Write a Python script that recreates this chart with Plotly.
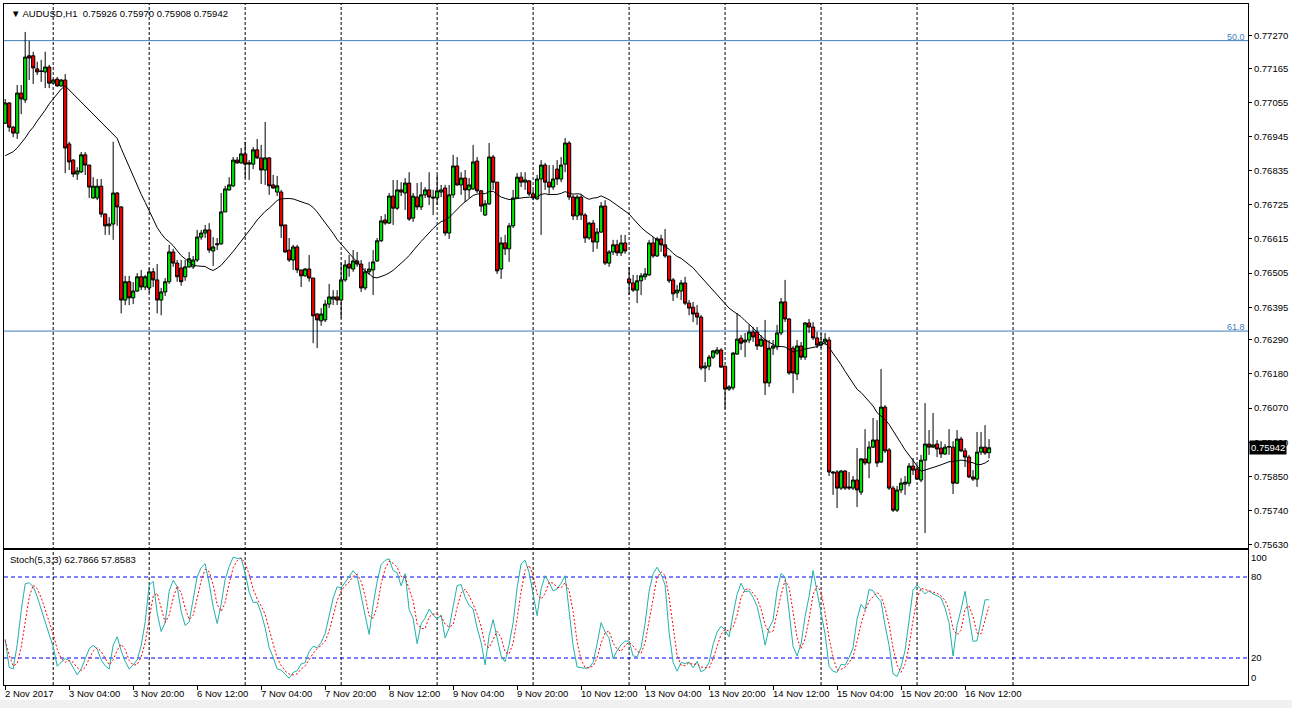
import plotly.graph_objects as go
import pandas as pd
import numpy as np

# ---------------- data (AUDUSD H1) ----------------
session_days = ["2017-11-02", "2017-11-03", "2017-11-06", "2017-11-07", "2017-11-08",
                "2017-11-09", "2017-11-10", "2017-11-13", "2017-11-14", "2017-11-15", "2017-11-16"]
first_bar_hour = 12
last_bar_hour = 18

open_ = [
0.76988, 0.77053, 0.76975, 0.76956, 0.77085, 0.77063, 0.77205, 0.77205, 0.77163, 0.77156,
0.77153, 0.77169, 0.77117, 0.77130, 0.77108, 0.77127, 0.76921, 0.76869, 0.76824, 0.76831,
0.76886, 0.76853, 0.76747, 0.76747, 0.76785, 0.76695, 0.76657, 0.76663, 0.76763, 0.76718,
0.76418, 0.76477, 0.76425, 0.76447, 0.76493, 0.76460, 0.76457, 0.76509, 0.76483, 0.76418,
0.76444, 0.76477, 0.76573, 0.76537, 0.76521, 0.76493, 0.76525, 0.76525, 0.76547, 0.76621,
0.76634, 0.76644, 0.76576, 0.76596, 0.76599, 0.76702, 0.76773, 0.76786, 0.76869, 0.76860,
0.76889, 0.76856, 0.76856, 0.76902, 0.76876, 0.76837, 0.76876, 0.76789, 0.76766, 0.76766,
0.76660, 0.76579, 0.76547, 0.76589, 0.76515, 0.76496, 0.76518, 0.76489, 0.76373, 0.76351,
0.76354, 0.76405, 0.76421, 0.76428, 0.76418, 0.76483, 0.76534, 0.76518, 0.76544, 0.76534,
0.76457, 0.76509, 0.76515, 0.76544, 0.76609, 0.76676, 0.76666, 0.76753, 0.76714, 0.76773,
0.76763, 0.76795, 0.76682, 0.76750, 0.76718, 0.76757, 0.76773, 0.76750, 0.76747, 0.76766,
0.76779, 0.76634, 0.76757, 0.76850, 0.76789, 0.76811, 0.76773, 0.76776, 0.76866, 0.76770,
0.76692, 0.76728, 0.76879, 0.76798, 0.76518, 0.76602, 0.76583, 0.76657, 0.76747, 0.76814,
0.76798, 0.76802, 0.76760, 0.76744, 0.76808, 0.76853, 0.76798, 0.76782, 0.76840, 0.76808,
0.76856, 0.76924, 0.76750, 0.76689, 0.76750, 0.76692, 0.76618, 0.76666, 0.76605, 0.76637,
0.76721, 0.76537, 0.76573, 0.76596, 0.76570, 0.76602, 0.76486, 0.76473, 0.76450, 0.76480,
0.76493, 0.76499, 0.76602, 0.76560, 0.76615, 0.76596, 0.76560, 0.76483, 0.76441, 0.76447,
0.76473, 0.76408, 0.76395, 0.76376, 0.76363, 0.76199, 0.76205, 0.76234, 0.76247, 0.76257,
0.76205, 0.76131, 0.76135, 0.76244, 0.76295, 0.76283, 0.76289, 0.76315, 0.76315, 0.76270,
0.76289, 0.76151, 0.76263, 0.76267, 0.76312, 0.76412, 0.76357, 0.76263, 0.76180, 0.76270,
0.76234, 0.76344, 0.76331, 0.76296, 0.76273, 0.76283, 0.76289, 0.75864, 0.75864, 0.75812,
0.75867, 0.75812, 0.75812, 0.75838, 0.75799, 0.75906, 0.75893, 0.75944, 0.75967, 0.75896,
0.76073, 0.75935, 0.75812, 0.75741, 0.75806, 0.75825, 0.75828, 0.75883, 0.75873, 0.75838,
0.75902, 0.75954, 0.75944, 0.75954, 0.75941, 0.75922, 0.75944, 0.75944, 0.75828, 0.75970,
0.75932, 0.75912, 0.75848, 0.75841, 0.75928, 0.75944, 0.75926]

high_ = [
0.77066, 0.77056, 0.76979, 0.77111, 0.77111, 0.77282, 0.77253, 0.77218, 0.77186, 0.77192,
0.77218, 0.77176, 0.77130, 0.77137, 0.77130, 0.77146, 0.76928, 0.76872, 0.76846, 0.76895,
0.76895, 0.76853, 0.76814, 0.76808, 0.76808, 0.76698, 0.76685, 0.76928, 0.76766, 0.76721,
0.76496, 0.76496, 0.76476, 0.76505, 0.76515, 0.76499, 0.76521, 0.76521, 0.76534, 0.76457,
0.76489, 0.76596, 0.76583, 0.76547, 0.76547, 0.76547, 0.76573, 0.76560, 0.76644, 0.76644,
0.76660, 0.76666, 0.76621, 0.76618, 0.76763, 0.76786, 0.76814, 0.76879, 0.76879, 0.76908,
0.76928, 0.76869, 0.76911, 0.76937, 0.76918, 0.76992, 0.76879, 0.76821, 0.76818, 0.76773,
0.76660, 0.76618, 0.76596, 0.76596, 0.76515, 0.76521, 0.76563, 0.76489, 0.76376, 0.76392,
0.76418, 0.76470, 0.76450, 0.76450, 0.76538, 0.76547, 0.76563, 0.76579, 0.76573, 0.76547,
0.76521, 0.76541, 0.76579, 0.76618, 0.76689, 0.76695, 0.76763, 0.76805, 0.76805, 0.76798,
0.76811, 0.76830, 0.76763, 0.76795, 0.76798, 0.76782, 0.76830, 0.76773, 0.76821, 0.76789,
0.76789, 0.76789, 0.76886, 0.76879, 0.76830, 0.76837, 0.76811, 0.76918, 0.76879, 0.76773,
0.76740, 0.76924, 0.76886, 0.76798, 0.76621, 0.76628, 0.76666, 0.76773, 0.76827, 0.76830,
0.76830, 0.76805, 0.76773, 0.76821, 0.76869, 0.76860, 0.76853, 0.76853, 0.76869, 0.76879,
0.76940, 0.76930, 0.76757, 0.76757, 0.76757, 0.76698, 0.76670, 0.76676, 0.76650, 0.76734,
0.76740, 0.76579, 0.76612, 0.76612, 0.76628, 0.76628, 0.76525, 0.76499, 0.76499, 0.76505,
0.76521, 0.76612, 0.76621, 0.76621, 0.76628, 0.76647, 0.76560, 0.76489, 0.76467, 0.76483,
0.76493, 0.76418, 0.76412, 0.76402, 0.76370, 0.76218, 0.76241, 0.76257, 0.76267, 0.76263,
0.76205, 0.76144, 0.76251, 0.76376, 0.76305, 0.76312, 0.76338, 0.76331, 0.76331, 0.76305,
0.76354, 0.76289, 0.76289, 0.76338, 0.76425, 0.76483, 0.76360, 0.76270, 0.76289, 0.76283,
0.76347, 0.76357, 0.76347, 0.76315, 0.76312, 0.76312, 0.76299, 0.75867, 0.75870, 0.75870,
0.75870, 0.75864, 0.75851, 0.75941, 0.75909, 0.76002, 0.75963, 0.76038, 0.76031, 0.76196,
0.76080, 0.75941, 0.75819, 0.75819, 0.75844, 0.75851, 0.75893, 0.75909, 0.75886, 0.75919,
0.76086, 0.75999, 0.76054, 0.75967, 0.75963, 0.75954, 0.76002, 0.75963, 0.75999, 0.75977,
0.75941, 0.75919, 0.75870, 0.75993, 0.75993, 0.76015, 0.75970]

low_ = [
0.76985, 0.76960, 0.76943, 0.76937, 0.77017, 0.77053, 0.77127, 0.77114, 0.77143, 0.77121,
0.77101, 0.77101, 0.77114, 0.77105, 0.77105, 0.76827, 0.76837, 0.76814, 0.76805, 0.76827,
0.76821, 0.76747, 0.76744, 0.76740, 0.76685, 0.76628, 0.76628, 0.76612, 0.76657, 0.76375,
0.76402, 0.76402, 0.76405, 0.76444, 0.76450, 0.76450, 0.76441, 0.76460, 0.76375, 0.76369,
0.76431, 0.76470, 0.76525, 0.76477, 0.76464, 0.76480, 0.76522, 0.76518, 0.76541, 0.76612,
0.76618, 0.76570, 0.76528, 0.76579, 0.76596, 0.76702, 0.76770, 0.76782, 0.76857, 0.76857,
0.76811, 0.76805, 0.76840, 0.76873, 0.76792, 0.76789, 0.76757, 0.76776, 0.76753, 0.76618,
0.76570, 0.76541, 0.76515, 0.76505, 0.76460, 0.76493, 0.76477, 0.76279, 0.76263, 0.76335,
0.76347, 0.76392, 0.76402, 0.76402, 0.76360, 0.76477, 0.76493, 0.76509, 0.76525, 0.76444,
0.76450, 0.76499, 0.76434, 0.76541, 0.76605, 0.76660, 0.76663, 0.76660, 0.76708, 0.76753,
0.76708, 0.76673, 0.76670, 0.76708, 0.76708, 0.76747, 0.76724, 0.76692, 0.76724, 0.76750,
0.76625, 0.76615, 0.76747, 0.76786, 0.76757, 0.76734, 0.76747, 0.76773, 0.76763, 0.76702,
0.76689, 0.76724, 0.76773, 0.76502, 0.76486, 0.76563, 0.76541, 0.76650, 0.76744, 0.76782,
0.76773, 0.76753, 0.76740, 0.76740, 0.76628, 0.76773, 0.76760, 0.76773, 0.76789, 0.76798,
0.76830, 0.76740, 0.76676, 0.76676, 0.76676, 0.76602, 0.76612, 0.76573, 0.76583, 0.76634,
0.76531, 0.76525, 0.76563, 0.76560, 0.76560, 0.76567, 0.76434, 0.76444, 0.76408, 0.76434,
0.76483, 0.76496, 0.76554, 0.76557, 0.76573, 0.76554, 0.76473, 0.76415, 0.76425, 0.76418,
0.76402, 0.76369, 0.76347, 0.76338, 0.76192, 0.76154, 0.76192, 0.76228, 0.76241, 0.76199,
0.76067, 0.76125, 0.76128, 0.76241, 0.76257, 0.76234, 0.76279, 0.76283, 0.76257, 0.76267,
0.76112, 0.76138, 0.76241, 0.76257, 0.76305, 0.76347, 0.76177, 0.76118, 0.76160, 0.76225,
0.76225, 0.76312, 0.76289, 0.76263, 0.76263, 0.76273, 0.75851, 0.75790, 0.75748, 0.75806,
0.75806, 0.75806, 0.75806, 0.75751, 0.75790, 0.75886, 0.75844, 0.75941, 0.75880, 0.75893,
0.75925, 0.75806, 0.75735, 0.75735, 0.75796, 0.75790, 0.75818, 0.75854, 0.75838, 0.75831,
0.75667, 0.75919, 0.75941, 0.75912, 0.75909, 0.75919, 0.75919, 0.75793, 0.75825, 0.75928,
0.75880, 0.75844, 0.75835, 0.75816, 0.75919, 0.75919, 0.75908]

close_ = [
0.77053, 0.76975, 0.76956, 0.77085, 0.77066, 0.77201, 0.77198, 0.77166, 0.77153, 0.77155,
0.77169, 0.77117, 0.77127, 0.77108, 0.77127, 0.76908, 0.76863, 0.76824, 0.76834, 0.76886,
0.76853, 0.76782, 0.76785, 0.76785, 0.76695, 0.76657, 0.76663, 0.76763, 0.76718, 0.76418,
0.76477, 0.76425, 0.76447, 0.76493, 0.76460, 0.76493, 0.76509, 0.76483, 0.76418, 0.76444,
0.76477, 0.76573, 0.76537, 0.76493, 0.76477, 0.76525, 0.76551, 0.76547, 0.76621, 0.76634,
0.76644, 0.76579, 0.76589, 0.76599, 0.76702, 0.76776, 0.76789, 0.76869, 0.76860, 0.76889,
0.76856, 0.76860, 0.76902, 0.76876, 0.76837, 0.76876, 0.76786, 0.76779, 0.76786, 0.76657,
0.76573, 0.76547, 0.76589, 0.76515, 0.76496, 0.76518, 0.76489, 0.76367, 0.76354, 0.76373,
0.76405, 0.76428, 0.76428, 0.76418, 0.76483, 0.76531, 0.76521, 0.76544, 0.76534, 0.76457,
0.76509, 0.76518, 0.76541, 0.76609, 0.76673, 0.76666, 0.76753, 0.76714, 0.76773, 0.76766,
0.76795, 0.76679, 0.76753, 0.76718, 0.76757, 0.76773, 0.76750, 0.76747, 0.76770, 0.76773,
0.76634, 0.76757, 0.76850, 0.76789, 0.76811, 0.76773, 0.76789, 0.76863, 0.76770, 0.76721,
0.76728, 0.76879, 0.76798, 0.76512, 0.76602, 0.76583, 0.76657, 0.76747, 0.76814, 0.76798,
0.76805, 0.76760, 0.76747, 0.76808, 0.76853, 0.76798, 0.76782, 0.76808, 0.76808, 0.76853,
0.76924, 0.76750, 0.76689, 0.76750, 0.76692, 0.76618, 0.76666, 0.76605, 0.76637, 0.76721,
0.76537, 0.76573, 0.76596, 0.76570, 0.76602, 0.76576, 0.76473, 0.76450, 0.76480, 0.76496,
0.76502, 0.76602, 0.76560, 0.76615, 0.76596, 0.76560, 0.76480, 0.76438, 0.76450, 0.76473,
0.76408, 0.76392, 0.76373, 0.76363, 0.76199, 0.76205, 0.76234, 0.76254, 0.76257, 0.76202,
0.76131, 0.76138, 0.76247, 0.76292, 0.76279, 0.76289, 0.76315, 0.76299, 0.76270, 0.76292,
0.76151, 0.76263, 0.76270, 0.76312, 0.76412, 0.76357, 0.76183, 0.76183, 0.76270, 0.76234,
0.76344, 0.76331, 0.76296, 0.76273, 0.76283, 0.76292, 0.75864, 0.75861, 0.75812, 0.75867,
0.75812, 0.75815, 0.75838, 0.75806, 0.75906, 0.75893, 0.75944, 0.75967, 0.75893, 0.76073,
0.75932, 0.75812, 0.75741, 0.75806, 0.75828, 0.75831, 0.75883, 0.75870, 0.75841, 0.75902,
0.75954, 0.75944, 0.75951, 0.75938, 0.75922, 0.75944, 0.75946, 0.75828, 0.75970, 0.75932,
0.75912, 0.75848, 0.75841, 0.75928, 0.75944, 0.75925, 0.75942]

# moving average (24) values before a full window exists
ma_period = 24
ma_head = [0.76883, 0.76890, 0.76896, 0.76908, 0.76924, 0.76940, 0.76960, 0.76975, 0.76995,
           0.77011, 0.77030, 0.77050, 0.77066, 0.77082, 0.77098, 0.77108, 0.77095, 0.77082,
           0.77069, 0.77056, 0.77043, 0.77030, 0.77017]
# stochastic (5,3,3) values before full windows exist
stoch_k_head = [34, 13, 12, 30, 55, 75]
stoch_d_head = [33, 22, 14, 16, 28, 45, 65, 74]

price_ticks = [0.77270, 0.77165, 0.77055, 0.76945, 0.76835, 0.76725, 0.76615, 0.76505,
               0.76395, 0.76290, 0.76180, 0.76070, 0.75960, 0.75850, 0.75740, 0.75630]
fib_levels = [0.77254, 0.76318]
fib_names = ["50.0", "61.8"]
stoch_levels = [20, 80]
title_text = "AUDUSD,H1\u00a0\u00a00.75926 0.75970 0.75908 0.75942"
stoch_text = "Stoch(5,3,3) 62.7866 57.8583"
label_every = 16

# ---------------- derived ----------------
times = []
for k, d in enumerate(session_days):
    h0 = first_bar_hour if k == 0 else 0
    h1 = last_bar_hour if k == len(session_days) - 1 else 23
    for h in range(h0, h1 + 1):
        times.append(pd.Timestamp(d) + pd.Timedelta(hours=h))
n = len(times)
idx = np.arange(n)

o = pd.Series(open_); hi = pd.Series(high_); lo = pd.Series(low_); cl = pd.Series(close_)
ma = cl.rolling(ma_period).mean()
ma.iloc[:len(ma_head)] = ma_head

ll5 = lo.rolling(5).min(); hh5 = hi.rolling(5).max()
k_line = 100 * (cl - ll5).rolling(3).sum() / (hh5 - ll5).rolling(3).sum()
d_line = k_line.rolling(3).mean()
k_line.iloc[:len(stoch_k_head)] = stoch_k_head
d_line.iloc[:len(stoch_d_head)] = stoch_d_head

day_starts = [i for i, t in enumerate(times) if t.hour == 0]
day_starts.append(day_starts[-1] + 24)

tick_idx = list(range(0, n, label_every))
tick_txt = []
for i in tick_idx:
    t = times[i]
    if i == 0:
        tick_txt.append(f"{t.day} {t.strftime('%b')} {t.year}")
    else:
        tick_txt.append(f"{t.day} {t.strftime('%b')} {t.strftime('%H:%M')}")

FONT = "Liberation Sans, Arial, sans-serif"
GREEN = "#00E000"
RED = "#F00000"

fig = go.Figure()
fig.add_trace(go.Candlestick(
    x=idx, open=open_, high=high_, low=low_, close=close_,
    increasing=dict(line=dict(color="black", width=1), fillcolor=GREEN),
    decreasing=dict(line=dict(color="black", width=1), fillcolor=RED),
    whiskerwidth=0, xaxis="x", yaxis="y", showlegend=False, hoverinfo="skip"))
fig.add_trace(go.Scatter(x=idx, y=ma, mode="lines", line=dict(color="black", width=1),
                         xaxis="x", yaxis="y", showlegend=False, hoverinfo="skip"))
fig.add_trace(go.Scatter(x=idx, y=k_line, mode="lines", line=dict(color="#20B2AA", width=1),
                         xaxis="x2", yaxis="y2", showlegend=False, hoverinfo="skip"))
fig.add_trace(go.Scatter(x=idx, y=d_line, mode="lines",
                         line=dict(color="#FF0000", width=1, dash="2px,2px"),
                         xaxis="x2", yaxis="y2", showlegend=False, hoverinfo="skip"))

W, H = 1292, 708
ml, mr, mt, mb = 4, 44, 4, 23
ph = H - mt - mb
price_dom = [(685 - 548) / ph, 1.0]
stoch_dom = [0.0, (685 - 550) / ph]
x_range = [-0.3, 310.75]

shapes = []
for ds in day_starts:
    shapes.append(dict(type="line", xref="x", yref="paper", x0=ds, x1=ds, y0=0, y1=1,
                       line=dict(color="black", width=1, dash="3px,2px"), layer="below"))
for lv in fib_levels:
    shapes.append(dict(type="line", xref="paper", yref="y", x0=0, x1=1, y0=lv, y1=lv,
                       line=dict(color="#3F7FBF", width=1), layer="below"))
for lv in stoch_levels:
    shapes.append(dict(type="line", xref="paper", yref="y2", x0=0, x1=1, y0=lv, y1=lv,
                       line=dict(color="#0000FF", width=1, dash="4px,3px"), layer="below"))
# light window strip under the chart
shapes.append(dict(type="rect", xref="paper", yref="paper", x0=-0.01, x1=1.05,
                   y0=-(700 - 685) / ph, y1=-(712 - 685) / ph,
                   fillcolor="#F0F0F0", line=dict(width=0), layer="below"))

annotations = []
annotations.append(dict(xref="paper", yref="paper", x=0, y=1, xanchor="left", yanchor="top",
                        xshift=5, yshift=-2, showarrow=False,
                        text="\u25BC " + title_text, font=dict(family=FONT, size=9.5, color="black")))
annotations.append(dict(xref="paper", yref="y2", x=0, y=100, xanchor="left", yanchor="top",
                        xshift=4, yshift=-2, showarrow=False,
                        text=stoch_text, font=dict(family=FONT, size=9.5, color="black")))
for lv, nm in zip(fib_levels, fib_names):
    annotations.append(dict(xref="paper", yref="y", x=1, y=lv, xanchor="right", yanchor="bottom",
                            xshift=-1, yshift=-3, showarrow=False, text=nm,
                            font=dict(family=FONT, size=9, color="#3F7FBF")))
for i, tt in zip(tick_idx, tick_txt):
    annotations.append(dict(xref="x2", yref="paper", x=i, y=0, xanchor="left", yanchor="top",
                            xshift=-2, yshift=-1, showarrow=False, text=tt,
                            font=dict(family=FONT, size=9.5, color="black")))
annotations.append(dict(xref="paper", yref="y2", x=1, y=100, xanchor="left", yanchor="top",
                        xshift=1, showarrow=False, text="100",
                        font=dict(family=FONT, size=9.5, color="black")))
annotations.append(dict(xref="paper", yref="y2", x=1, y=0, xanchor="left", yanchor="bottom",
                        xshift=1, showarrow=False, text="0",
                        font=dict(family=FONT, size=9.5, color="black")))
annotations.append(dict(xref="paper", yref="y", x=1, y=close_[-1], xanchor="left", yanchor="middle",
                        xshift=1, showarrow=False, text=f"{close_[-1]:.5f}", bgcolor="black",
                        borderpad=1, font=dict(family=FONT, size=9.5, color="white")))

fig.update_layout(
    width=W, height=H, margin=dict(l=ml, r=mr, t=mt, b=mb),
    paper_bgcolor="white", plot_bgcolor="white",
    showlegend=False, shapes=shapes, annotations=annotations,
    xaxis=dict(domain=[0, 1], range=x_range, anchor="y", showgrid=False, zeroline=False,
               showticklabels=False, ticks="", showline=True, mirror=True, linecolor="black",
               linewidth=1, rangeslider=dict(visible=False), fixedrange=True),
    yaxis=dict(domain=price_dom, range=[0.75619, 0.77372], side="right", anchor="x",
               tickvals=price_ticks, ticktext=[f"{v:.5f}" for v in price_ticks],
               ticks="outside", ticklen=3, tickcolor="black", showgrid=False, zeroline=False,
               showline=True, mirror=True, linecolor="black", linewidth=1,
               tickfont=dict(family=FONT, size=9.5, color="black")),
    xaxis2=dict(domain=[0, 1], range=x_range, anchor="y2", matches="x", showgrid=False,
                zeroline=False, showticklabels=False, tickvals=tick_idx, ticks="outside",
                ticklen=4, tickcolor="black", showline=True, mirror=True, linecolor="black",
                linewidth=1),
    yaxis2=dict(domain=stoch_dom, range=[0, 100], side="right", anchor="x2",
                tickvals=stoch_levels, ticktext=[str(v) for v in stoch_levels], ticks="",
                showgrid=False, zeroline=False, showline=True, mirror=True, linecolor="black",
                linewidth=1, tickfont=dict(family=FONT, size=9.5, color="black")),
    boxgap=0.0, boxgroupgap=0.2,
)

fig.write_html("out.html", config={"displayModeBar": False},
               post_script="document.body.style.margin='0';document.body.style.overflow='hidden';")
